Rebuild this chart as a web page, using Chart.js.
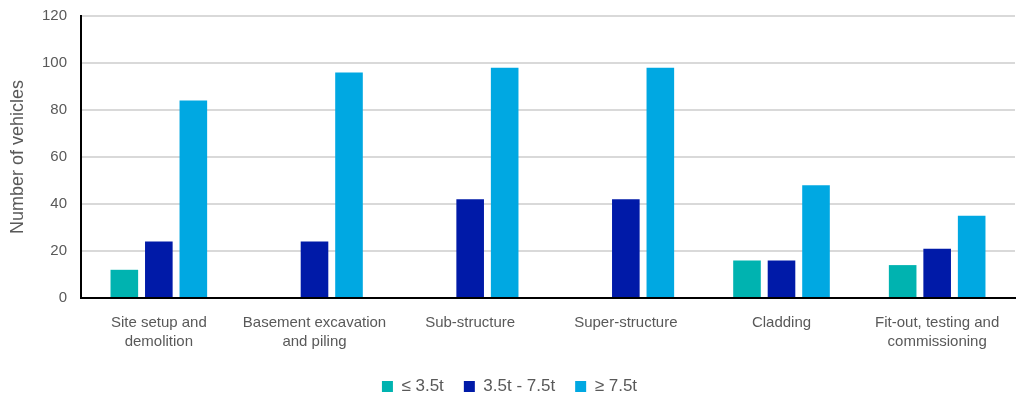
<!DOCTYPE html>
<html>
<head>
<meta charset="utf-8">
<script src="https://cdn.jsdelivr.net/npm/chart.js@4.4.1/dist/chart.umd.min.js"></script>
<style>
  html, body { margin: 0; padding: 0; background: #ffffff; }
  #wrap { width: 1021px; height: 396px; position: relative; }
</style>
</head>
<body>
<div id="wrap"><canvas id="chart"></canvas></div>
<script>
// Construction phases
const phases = [
  ['Site setup and', 'demolition'],
  ['Basement excavation', 'and piling'],
  'Sub-structure',
  'Super-structure',
  'Cladding',
  ['Fit-out, testing and', 'commissioning']
];

// Vehicle counts by weight class
const upTo3_5t = [12, 0, 0, 0, 16, 14];
const from3_5to7_5t = [24, 24, 42, 42, 16, 21];
const over7_5t = [84, 96, 98, 98, 48, 35];

const seriesNames = ['\u2264 3.5t', '3.5t - 7.5t', '\u2265 7.5t'];
const yTicks = [0, 20, 40, 60, 80, 100, 120];

const textGrey = '#595959';
const fontFamily = '"Liberation Sans", Arial, sans-serif';

new Chart(document.getElementById('chart'), {
  type: 'bar',
  data: {
    labels: phases,
    datasets: [
      { label: seriesNames[0], data: upTo3_5t, backgroundColor: '#00b3b0' },
      { label: seriesNames[1], data: from3_5to7_5t, backgroundColor: '#001aa8' },
      { label: seriesNames[2], data: over7_5t, backgroundColor: '#00a8e2' }
    ]
  },
  options: {
    responsive: true,
    maintainAspectRatio: false,
    animation: false,
    datasets: { bar: { categoryPercentage: 0.665, barPercentage: 0.8 } },
    layout: { padding: { top: 0, right: 6, left: 4, bottom: -9 } },
    plugins: {
      tooltip: { enabled: false },
      legend: {
        position: 'bottom',
        labels: {
          boxWidth: 11,
          boxHeight: 11,
          padding: 20,
          color: textGrey,
          font: { family: fontFamily, size: 17 }
        }
      }
    },
    scales: {
      x: {
        grid: { display: false },
        border: { display: true, color: '#000000', width: 2 },
        afterFit: (scale) => { scale.height = 60; },
        ticks: {
          color: textGrey,
          maxRotation: 0,
          autoSkip: false,
          padding: 7,
          font: { family: fontFamily, size: 15, lineHeight: 1.27 }
        }
      },
      y: {
        min: 0,
        max: 120,
        afterBuildTicks: (scale) => { scale.ticks = yTicks.map(v => ({ value: v })); },
        afterFit: (scale) => { scale.width = 77; scale.paddingTop = 16; },
        grid: { color: '#d9d9d9', lineWidth: 2, drawTicks: false },
        border: { display: true, color: '#000000', width: 2 },
        ticks: {
          color: textGrey,
          padding: 14,
          font: { family: fontFamily, size: 15 }
        },
        title: {
          display: true,
          text: 'Number of vehicles',
          color: textGrey,
          padding: { top: 3, bottom: 4 },
          font: { family: fontFamily, size: 18 }
        }
      }
    }
  }
});
</script>
</body>
</html>
